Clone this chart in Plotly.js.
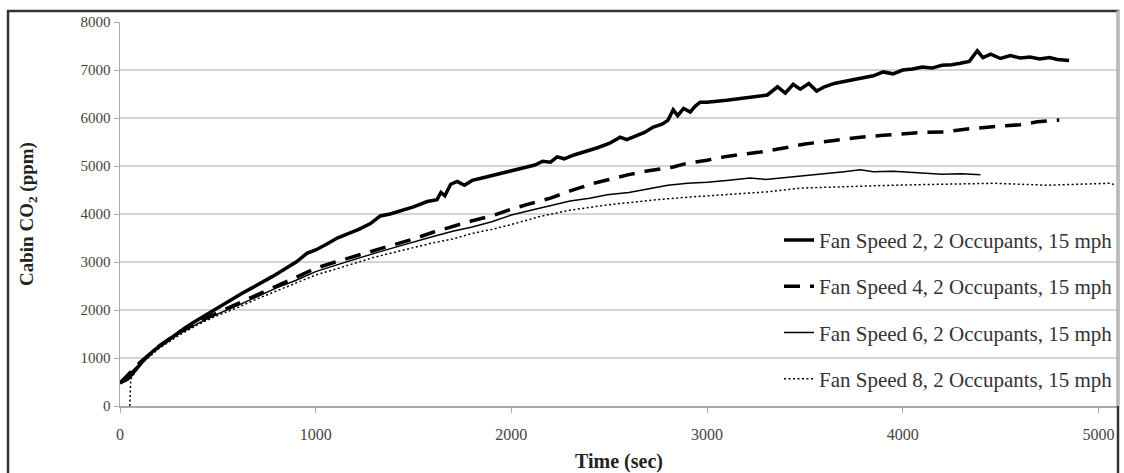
<!DOCTYPE html>
<html>
<head>
<meta charset="utf-8">
<script src="https://cdn.plot.ly/plotly-3.0.1.min.js"></script>
<style>html,body{margin:0;padding:0;background:#fff;}#chart{width:1124px;height:473px;}</style>
</head>
<body>
<div id="chart"></div>
<script>
// Series names
const seriesNames = [
  "Fan Speed 2, 2 Occupants, 15 mph",
  "Fan Speed 4, 2 Occupants, 15 mph",
  "Fan Speed 6, 2 Occupants, 15 mph",
  "Fan Speed 8, 2 Occupants, 15 mph"
];

// Fan Speed 2 (time s, CO2 ppm)
const fan2Time = [0,40,80,120,170,220,280,330,375,420,470,520,570,620,670,720,780,840,900,955,1000,1060,1110,1160,1220,1280,1330,1380,1450,1500,1570,1620,1640,1660,1690,1723,1760,1800,1850,1900,1950,2000,2030,2080,2120,2160,2200,2234,2270,2320,2380,2440,2500,2556,2590,2630,2680,2725,2770,2800,2827,2850,2880,2914,2940,2965,3000,3100,3200,3308,3360,3400,3440,3476,3520,3560,3600,3650,3700,3750,3800,3850,3900,3950,4000,4050,4100,4150,4200,4250,4294,4340,4381,4410,4450,4499,4550,4600,4650,4700,4750,4790,4850];
const fan2CO2  = [480,560,750,950,1150,1300,1480,1620,1740,1850,1990,2110,2220,2340,2450,2560,2700,2850,3000,3180,3250,3380,3500,3580,3680,3800,3960,4000,4080,4150,4260,4300,4450,4380,4620,4680,4600,4700,4750,4800,4850,4900,4920,4980,5020,5100,5080,5190,5150,5230,5300,5380,5470,5600,5550,5620,5700,5810,5870,5950,6170,6050,6200,6125,6250,6330,6330,6370,6420,6480,6650,6520,6700,6600,6720,6560,6650,6720,6760,6800,6850,6880,6960,6920,7000,7020,7060,7040,7100,7110,7140,7180,7400,7260,7330,7240,7300,7250,7270,7230,7260,7220,7200];

// Fan Speed 4
const fan4Time = [0,100,200,300,400,500,600,700,800,900,1000,1100,1200,1300,1400,1500,1600,1700,1800,1900,2000,2100,2200,2300,2420,2500,2600,2700,2827,2900,3000,3100,3272,3400,3500,3650,3783,3900,4000,4100,4208,4350,4500,4600,4688,4800];
const fan4CO2  = [480,900,1250,1530,1760,1950,2120,2320,2500,2680,2870,3000,3120,3240,3360,3480,3620,3740,3860,3960,4100,4220,4330,4480,4640,4720,4820,4900,4980,5060,5120,5200,5290,5380,5460,5530,5600,5640,5670,5700,5710,5780,5830,5860,5920,5960];

// Fan Speed 6
const fan6Time = [0,100,200,300,400,500,600,700,800,900,1000,1100,1200,1300,1400,1500,1600,1700,1800,1900,2000,2100,2200,2300,2400,2490,2600,2700,2800,2900,3000,3100,3220,3300,3400,3500,3614,3700,3783,3850,3950,4050,4126,4200,4300,4397];
const fan6CO2  = [480,880,1230,1500,1720,1920,2090,2280,2460,2620,2800,2930,3060,3180,3300,3420,3530,3640,3730,3840,3980,4080,4180,4270,4330,4400,4450,4520,4600,4640,4660,4700,4750,4720,4760,4790,4850,4880,4920,4880,4890,4860,4850,4830,4840,4820];

// Fan Speed 8
const fan8Time = [50,55,100,200,300,400,500,600,700,800,900,1000,1100,1200,1300,1400,1500,1600,1700,1805,1900,2000,2147,2300,2490,2600,2750,2900,3000,3170,3300,3476,3600,3800,3950,4100,4300,4463,4600,4740,4900,5060,5090];
const fan8CO2  = [0,560,850,1200,1470,1700,1890,2050,2230,2400,2560,2730,2850,2980,3100,3200,3300,3400,3480,3600,3680,3780,3950,4080,4190,4240,4300,4350,4380,4430,4460,4540,4560,4580,4600,4610,4620,4640,4620,4600,4620,4640,4600];

// Axis ticks
const xTicks = [0,1000,2000,3000,4000,5000];
const yTicks = [0,1000,2000,3000,4000,5000,6000,7000,8000];

const serif = "'Liberation Serif', 'Times New Roman', serif";

const traces = [
  {x: fan2Time, y: fan2CO2, name: seriesNames[0], legendgroup: "g1", mode: "lines",
   line: {color: "#000", width: 3.5}},
  {x: fan4Time, y: fan4CO2, name: seriesNames[1], legendgroup: "g2", mode: "lines",
   line: {color: "#000", width: 3.5, dash: "16px,10px"}},
  {x: fan6Time, y: fan6CO2, name: seriesNames[2], legendgroup: "g3", mode: "lines",
   line: {color: "#000", width: 1.5}},
  {x: fan8Time, y: fan8CO2, name: seriesNames[3], legendgroup: "g4", mode: "lines",
   line: {color: "#000", width: 1.5, dash: "2px,2.5px"}}
];

const layout = {
  width: 1124, height: 473,
  margin: {l: 120, r: 6, t: 22, b: 67},
  paper_bgcolor: "#fff", plot_bgcolor: "#fff",
  font: {family: serif, color: "#333"},
  showlegend: true,
  legend: {
    x: 1, xanchor: "right", y: 0.485, yanchor: "top",
    bgcolor: "rgba(0,0,0,0)", borderwidth: 0,
    font: {family: serif, size: 21, color: "#333"},
    tracegroupgap: 16, traceorder: "grouped"
  },
  xaxis: {
    range: [0, 5100], tickvals: xTicks, ticktext: xTicks.map(String),
    showgrid: false, zeroline: false,
    showline: true, linecolor: "#aaa", linewidth: 1.5,
    ticks: "outside", ticklen: 5, tickcolor: "#aaa",
    ticklabelstandoff: 8,
    tickfont: {family: serif, size: 16, color: "#444"},
    title: {text: "Time (sec)", font: {family: serif, size: 20, color: "#222", weight: "bold"}, standoff: 12}
  },
  yaxis: {
    range: [0, 8000], tickvals: yTicks, ticktext: yTicks.map(String),
    showgrid: true, gridcolor: "#d4d4d4", gridwidth: 1.5,
    zeroline: false,
    showline: true, linecolor: "#aaa", linewidth: 1.5,
    ticks: "outside", ticklen: 5, tickcolor: "#aaa",
    tickfont: {family: serif, size: 15, color: "#444"},
    title: {text: "Cabin CO<sub>2</sub> (ppm)", font: {family: serif, size: 19, color: "#222", weight: "bold"}, standoff: 42}
  },
  shapes: [
    {type: "rect", xref: "paper", yref: "paper", x0: -0.1122, x1: 1.0, y0: -0.3, y1: 1.0286,
     line: {color: "#333", width: 2.5}, fillcolor: "rgba(0,0,0,0)", layer: "above"},
    {type: "line", xref: "paper", yref: "paper", x0: 1.0, x1: 1.0, y0: 0, y1: 1.03,
     line: {color: "#bbb", width: 3}}
  ]
};

Plotly.newPlot("chart", traces, layout, {displayModeBar: false, staticPlot: true});
</script>
</body>
</html>
